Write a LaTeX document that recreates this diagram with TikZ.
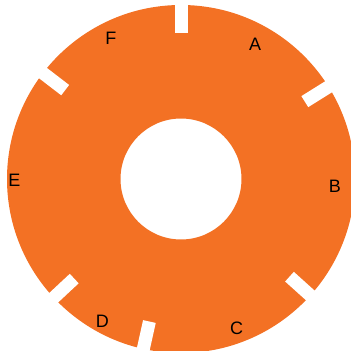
\documentclass[tikz,border=0pt]{standalone}
\usepackage{fontspec}
\setmainfont{Liberation Sans}
\usetikzlibrary{calc}
\definecolor{ringorange}{RGB}{243,113,36}

\begin{document}
\begin{tikzpicture}[x=1pt, y=1pt, every node/.style={font=\fontsize{18}{20}\selectfont, text=black}]
    \useasboundingbox (0,0) rectangle (351,351);
    \coordinate (ctr) at (181,172);
    % ring
    \begin{scope}
      \clip (0,0) rectangle (351,351);
      \fill[ringorange, even odd rule] (ctr) circle (174pt) (ctr) circle (60.5pt);
    \end{scope}
    % white cuts between the parts
    \foreach \ang in {90,32,-42,-102.5,-137,142.5}
      \draw[white, line width=13pt] ($(ctr)+(\ang:146pt)$) -- ($(ctr)+(\ang:190pt)$);
    % part labels
    \foreach \lab/\ang/\rad in {A/61.4/155, B/-2.2/154, C/-69.4/158, D/-119.2/161, E/180/166.5, F/116.2/159}
      \node (lab\lab) at ($(ctr)+(\ang:\rad pt)+(0,-1.5)$) {\lab};
\end{tikzpicture}
\end{document}
